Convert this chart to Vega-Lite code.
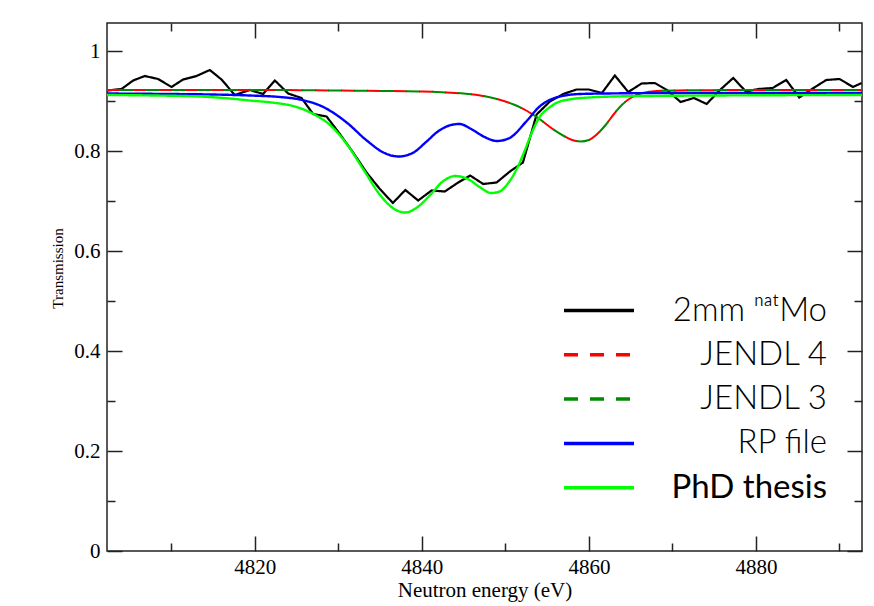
{
  "$schema": "https://vega.github.io/schema/vega-lite/v6.json",
  "width": 755,
  "height": 528,
  "autosize": {"type": "none"},
  "padding": {"left": 107, "top": 23, "right": 12, "bottom": 55},
  "background": "white",
  "config": {
    "view": {"stroke": "#222", "strokeWidth": 1.5},
    "axis": {
      "labelFont": "Liberation Serif",
      "titleFont": "Liberation Serif",
      "labelColor": "#000",
      "titleColor": "#000",
      "labelFontSize": 21,
      "titleFontWeight": "normal",
      "tickColor": "#222",
      "tickWidth": 1.5,
      "domain": false,
      "grid": false
    },
    "legend": {
      "orient": "none",
      "legendX": 455,
      "legendY": 271,
      "padding": 0,
      "symbolType": "stroke",
      "symbolSize": 4900,
      "symbolStrokeWidth": 3.5,
      "clipHeight": 33,
      "rowPadding": 10.3,
      "labelFont": "Lato",
      "labelFontSize": 33,
      "labelAlign": "right",
      "labelBaseline": "middle",
      "labelOffset": 191,
      "labelLimit": 600
    }
  },
  "data": {
    "values": [
      {"s": "2mm ⁿᵃᵗMo", "E": 4802.31, "T": 0.921},
      {"s": "2mm ⁿᵃᵗMo", "E": 4804.04, "T": 0.924},
      {"s": "2mm ⁿᵃᵗMo", "E": 4805.43, "T": 0.941},
      {"s": "2mm ⁿᵃᵗMo", "E": 4806.83, "T": 0.950},
      {"s": "2mm ⁿᵃᵗMo", "E": 4808.42, "T": 0.944},
      {"s": "2mm ⁿᵃᵗMo", "E": 4810.02, "T": 0.928},
      {"s": "2mm ⁿᵃᵗMo", "E": 4811.41, "T": 0.943},
      {"s": "2mm ⁿᵃᵗMo", "E": 4813.02, "T": 0.950},
      {"s": "2mm ⁿᵃᵗMo", "E": 4814.61, "T": 0.962},
      {"s": "2mm ⁿᵃᵗMo", "E": 4816.01, "T": 0.943},
      {"s": "2mm ⁿᵃᵗMo", "E": 4817.60, "T": 0.912},
      {"s": "2mm ⁿᵃᵗMo", "E": 4819.40, "T": 0.922},
      {"s": "2mm ⁿᵃᵗMo", "E": 4820.99, "T": 0.914},
      {"s": "2mm ⁿᵃᵗMo", "E": 4822.40, "T": 0.941},
      {"s": "2mm ⁿᵃᵗMo", "E": 4823.99, "T": 0.915},
      {"s": "2mm ⁿᵃᵗMo", "E": 4825.59, "T": 0.906},
      {"s": "2mm ⁿᵃᵗMo", "E": 4826.98, "T": 0.874},
      {"s": "2mm ⁿᵃᵗMo", "E": 4828.59, "T": 0.869},
      {"s": "2mm ⁿᵃᵗMo", "E": 4830.18, "T": 0.834},
      {"s": "2mm ⁿᵃᵗMo", "E": 4831.77, "T": 0.797},
      {"s": "2mm ⁿᵃᵗMo", "E": 4833.38, "T": 0.757},
      {"s": "2mm ⁿᵃᵗMo", "E": 4834.97, "T": 0.724},
      {"s": "2mm ⁿᵃᵗMo", "E": 4836.53, "T": 0.696},
      {"s": "2mm ⁿᵃᵗMo", "E": 4838.02, "T": 0.722},
      {"s": "2mm ⁿᵃᵗMo", "E": 4839.56, "T": 0.701},
      {"s": "2mm ⁿᵃᵗMo", "E": 4841.16, "T": 0.721},
      {"s": "2mm ⁿᵃᵗMo", "E": 4842.75, "T": 0.719},
      {"s": "2mm ⁿᵃᵗMo", "E": 4844.35, "T": 0.737},
      {"s": "2mm ⁿᵃᵗMo", "E": 4845.78, "T": 0.751},
      {"s": "2mm ⁿᵃᵗMo", "E": 4847.34, "T": 0.734},
      {"s": "2mm ⁿᵃᵗMo", "E": 4848.95, "T": 0.737},
      {"s": "2mm ⁿᵃᵗMo", "E": 4850.54, "T": 0.759},
      {"s": "2mm ⁿᵃᵗMo", "E": 4852.10, "T": 0.777},
      {"s": "2mm ⁿᵃᵗMo", "E": 4853.74, "T": 0.873},
      {"s": "2mm ⁿᵃᵗMo", "E": 4855.33, "T": 0.899},
      {"s": "2mm ⁿᵃᵗMo", "E": 4856.92, "T": 0.914},
      {"s": "2mm ⁿᵃᵗMo", "E": 4858.53, "T": 0.923},
      {"s": "2mm ⁿᵃᵗMo", "E": 4860.00, "T": 0.923},
      {"s": "2mm ⁿᵃᵗMo", "E": 4861.56, "T": 0.916},
      {"s": "2mm ⁿᵃᵗMo", "E": 4863.11, "T": 0.951},
      {"s": "2mm ⁿᵃᵗMo", "E": 4864.71, "T": 0.918},
      {"s": "2mm ⁿᵃᵗMo", "E": 4866.31, "T": 0.935},
      {"s": "2mm ⁿᵃᵗMo", "E": 4867.90, "T": 0.936},
      {"s": "2mm ⁿᵃᵗMo", "E": 4869.34, "T": 0.922},
      {"s": "2mm ⁿᵃᵗMo", "E": 4870.98, "T": 0.898},
      {"s": "2mm ⁿᵃᵗMo", "E": 4872.57, "T": 0.906},
      {"s": "2mm ⁿᵃᵗMo", "E": 4874.10, "T": 0.894},
      {"s": "2mm ⁿᵃᵗMo", "E": 4875.69, "T": 0.922},
      {"s": "2mm ⁿᵃᵗMo", "E": 4877.28, "T": 0.946},
      {"s": "2mm ⁿᵃᵗMo", "E": 4878.80, "T": 0.919},
      {"s": "2mm ⁿᵃᵗMo", "E": 4880.28, "T": 0.924},
      {"s": "2mm ⁿᵃᵗMo", "E": 4882.00, "T": 0.926},
      {"s": "2mm ⁿᵃᵗMo", "E": 4883.63, "T": 0.942},
      {"s": "2mm ⁿᵃᵗMo", "E": 4885.19, "T": 0.907},
      {"s": "2mm ⁿᵃᵗMo", "E": 4886.71, "T": 0.924},
      {"s": "2mm ⁿᵃᵗMo", "E": 4888.42, "T": 0.942},
      {"s": "2mm ⁿᵃᵗMo", "E": 4890.02, "T": 0.944},
      {"s": "2mm ⁿᵃᵗMo", "E": 4891.62, "T": 0.928},
      {"s": "2mm ⁿᵃᵗMo", "E": 4892.66, "T": 0.936},

      {"s": "JENDL 4", "E": 4802.3, "T": 0.922},
      {"s": "JENDL 4", "E": 4810, "T": 0.922},
      {"s": "JENDL 4", "E": 4820, "T": 0.922},
      {"s": "JENDL 4", "E": 4830, "T": 0.921},
      {"s": "JENDL 4", "E": 4836, "T": 0.920},
      {"s": "JENDL 4", "E": 4840, "T": 0.919},
      {"s": "JENDL 4", "E": 4843, "T": 0.917},
      {"s": "JENDL 4", "E": 4845, "T": 0.915},
      {"s": "JENDL 4", "E": 4847, "T": 0.911},
      {"s": "JENDL 4", "E": 4849, "T": 0.904},
      {"s": "JENDL 4", "E": 4851, "T": 0.893},
      {"s": "JENDL 4", "E": 4852.5, "T": 0.881},
      {"s": "JENDL 4", "E": 4854, "T": 0.865},
      {"s": "JENDL 4", "E": 4855.5, "T": 0.846},
      {"s": "JENDL 4", "E": 4857, "T": 0.830},
      {"s": "JENDL 4", "E": 4858, "T": 0.822},
      {"s": "JENDL 4", "E": 4859, "T": 0.819},
      {"s": "JENDL 4", "E": 4860, "T": 0.822},
      {"s": "JENDL 4", "E": 4861, "T": 0.834},
      {"s": "JENDL 4", "E": 4862, "T": 0.852},
      {"s": "JENDL 4", "E": 4863, "T": 0.874},
      {"s": "JENDL 4", "E": 4864, "T": 0.893},
      {"s": "JENDL 4", "E": 4865, "T": 0.906},
      {"s": "JENDL 4", "E": 4866, "T": 0.914},
      {"s": "JENDL 4", "E": 4867.5, "T": 0.919},
      {"s": "JENDL 4", "E": 4870, "T": 0.921},
      {"s": "JENDL 4", "E": 4880, "T": 0.922},
      {"s": "JENDL 4", "E": 4892.7, "T": 0.922},

      {"s": "JENDL 3", "E": 4802.3, "T": 0.922},
      {"s": "JENDL 3", "E": 4810, "T": 0.922},
      {"s": "JENDL 3", "E": 4820, "T": 0.922},
      {"s": "JENDL 3", "E": 4830, "T": 0.921},
      {"s": "JENDL 3", "E": 4836, "T": 0.920},
      {"s": "JENDL 3", "E": 4840, "T": 0.919},
      {"s": "JENDL 3", "E": 4843, "T": 0.917},
      {"s": "JENDL 3", "E": 4845, "T": 0.915},
      {"s": "JENDL 3", "E": 4847, "T": 0.911},
      {"s": "JENDL 3", "E": 4849, "T": 0.904},
      {"s": "JENDL 3", "E": 4851, "T": 0.893},
      {"s": "JENDL 3", "E": 4852.5, "T": 0.881},
      {"s": "JENDL 3", "E": 4854, "T": 0.865},
      {"s": "JENDL 3", "E": 4855.5, "T": 0.846},
      {"s": "JENDL 3", "E": 4857, "T": 0.830},
      {"s": "JENDL 3", "E": 4858, "T": 0.822},
      {"s": "JENDL 3", "E": 4859, "T": 0.819},
      {"s": "JENDL 3", "E": 4860, "T": 0.822},
      {"s": "JENDL 3", "E": 4861, "T": 0.834},
      {"s": "JENDL 3", "E": 4862, "T": 0.852},
      {"s": "JENDL 3", "E": 4863, "T": 0.874},
      {"s": "JENDL 3", "E": 4864, "T": 0.893},
      {"s": "JENDL 3", "E": 4865, "T": 0.906},
      {"s": "JENDL 3", "E": 4866, "T": 0.914},
      {"s": "JENDL 3", "E": 4867.5, "T": 0.919},
      {"s": "JENDL 3", "E": 4870, "T": 0.921},
      {"s": "JENDL 3", "E": 4880, "T": 0.922},
      {"s": "JENDL 3", "E": 4892.7, "T": 0.922},

      {"s": "RP file", "E": 4802.3, "T": 0.915},
      {"s": "RP file", "E": 4810, "T": 0.914},
      {"s": "RP file", "E": 4815, "T": 0.913},
      {"s": "RP file", "E": 4819.4, "T": 0.911},
      {"s": "RP file", "E": 4823.0, "T": 0.908},
      {"s": "RP file", "E": 4825.4, "T": 0.903},
      {"s": "RP file", "E": 4828.2, "T": 0.888},
      {"s": "RP file", "E": 4831.0, "T": 0.857},
      {"s": "RP file", "E": 4833.4, "T": 0.821},
      {"s": "RP file", "E": 4835.4, "T": 0.797},
      {"s": "RP file", "E": 4837.2, "T": 0.789},
      {"s": "RP file", "E": 4839.0, "T": 0.797},
      {"s": "RP file", "E": 4840.5, "T": 0.818},
      {"s": "RP file", "E": 4842.0, "T": 0.840},
      {"s": "RP file", "E": 4843.5, "T": 0.852},
      {"s": "RP file", "E": 4844.5, "T": 0.854},
      {"s": "RP file", "E": 4846.0, "T": 0.843},
      {"s": "RP file", "E": 4847.5, "T": 0.828},
      {"s": "RP file", "E": 4849.0, "T": 0.820},
      {"s": "RP file", "E": 4850.5, "T": 0.826},
      {"s": "RP file", "E": 4852.5, "T": 0.859},
      {"s": "RP file", "E": 4854.1, "T": 0.889},
      {"s": "RP file", "E": 4856.1, "T": 0.907},
      {"s": "RP file", "E": 4858.9, "T": 0.914},
      {"s": "RP file", "E": 4862, "T": 0.915},
      {"s": "RP file", "E": 4870, "T": 0.916},
      {"s": "RP file", "E": 4892.7, "T": 0.916},

      {"s": "PhD thesis", "E": 4802.3, "T": 0.912},
      {"s": "PhD thesis", "E": 4808, "T": 0.911},
      {"s": "PhD thesis", "E": 4813.4, "T": 0.909},
      {"s": "PhD thesis", "E": 4817, "T": 0.905},
      {"s": "PhD thesis", "E": 4819.4, "T": 0.901},
      {"s": "PhD thesis", "E": 4822, "T": 0.897},
      {"s": "PhD thesis", "E": 4825.0, "T": 0.888},
      {"s": "PhD thesis", "E": 4827.0, "T": 0.874},
      {"s": "PhD thesis", "E": 4829.0, "T": 0.852},
      {"s": "PhD thesis", "E": 4831.0, "T": 0.814},
      {"s": "PhD thesis", "E": 4833.0, "T": 0.763},
      {"s": "PhD thesis", "E": 4835.0, "T": 0.712},
      {"s": "PhD thesis", "E": 4836.6, "T": 0.685},
      {"s": "PhD thesis", "E": 4838.0, "T": 0.677},
      {"s": "PhD thesis", "E": 4839.5, "T": 0.688},
      {"s": "PhD thesis", "E": 4841.0, "T": 0.712},
      {"s": "PhD thesis", "E": 4842.5, "T": 0.739},
      {"s": "PhD thesis", "E": 4844.0, "T": 0.750},
      {"s": "PhD thesis", "E": 4845.5, "T": 0.744},
      {"s": "PhD thesis", "E": 4847.0, "T": 0.727},
      {"s": "PhD thesis", "E": 4848.3, "T": 0.716},
      {"s": "PhD thesis", "E": 4849.3, "T": 0.719},
      {"s": "PhD thesis", "E": 4850.3, "T": 0.735},
      {"s": "PhD thesis", "E": 4851.3, "T": 0.762},
      {"s": "PhD thesis", "E": 4852.3, "T": 0.800},
      {"s": "PhD thesis", "E": 4853.2, "T": 0.838},
      {"s": "PhD thesis", "E": 4854.1, "T": 0.868},
      {"s": "PhD thesis", "E": 4855.2, "T": 0.886},
      {"s": "PhD thesis", "E": 4856.1, "T": 0.896},
      {"s": "PhD thesis", "E": 4858, "T": 0.904},
      {"s": "PhD thesis", "E": 4860, "T": 0.907},
      {"s": "PhD thesis", "E": 4863, "T": 0.909},
      {"s": "PhD thesis", "E": 4867, "T": 0.910},
      {"s": "PhD thesis", "E": 4875, "T": 0.911},
      {"s": "PhD thesis", "E": 4892.7, "T": 0.912}
    ]
  },
  "layer": [
    {
      "transform": [{"filter": {"field": "s", "equal": "2mm ⁿᵃᵗMo"}}],
      "mark": {"type": "line", "strokeWidth": 2.2, "clip": true},
      "encoding": {
        "x": {
          "field": "E", "type": "quantitative",
          "scale": {"domain": [4802.3, 4892.7], "nice": false, "zero": false},
          "axis": {
            "orient": "bottom",
            "values": [4810, 4820, 4830, 4840, 4850, 4860, 4870, 4880, 4890],
            "format": "d",
            "tickSize": {"condition": {"test": "datum.value % 20 === 0", "value": -15}, "value": -8},
            "labelExpr": "datum.value % 20 === 0 ? datum.label : ''",
            "labelPadding": 20,
            "title": "Neutron energy (eV)",
            "titleFontSize": 21,
            "titleBaseline": "alphabetic",
            "titleY": 45
          }
        },
        "y": {
          "field": "T", "type": "quantitative",
          "scale": {"domain": [0, 1.056], "nice": false, "zero": true},
          "axis": {
            "orient": "left",
            "values": [0, 0.1, 0.2, 0.3, 0.4, 0.5, 0.6, 0.7, 0.8, 0.9, 1],
            "format": "~g",
            "tickSize": {"condition": {"test": "round(datum.value * 10) % 2 === 0", "value": -15}, "value": -8},
            "labelExpr": "round(datum.value * 10) % 2 === 0 ? datum.label : ''",
            "labelPadding": 22,
            "title": "Transmission",
            "titleFontSize": 15,
            "titlePadding": 8,
            "titleY": 245
          }
        },
        "color": {
          "field": "s", "type": "nominal",
          "scale": {
            "domain": ["2mm ⁿᵃᵗMo", "JENDL 4", "JENDL 3", "RP file", "PhD thesis"],
            "range": ["#000000", "#ff0000", "#008b00", "#0000ff", "#00ff00"]
          },
          "legend": {
            "title": null,
            "encode": {
              "labels": {
                "update": {
                  "fontWeight": {"signal": "datum.label === 'PhD thesis' ? 400 : 300"},
                  "fill": {"value": "#000000"}
                }
              }
            }
          }
        },
        "strokeDash": {
          "field": "s", "type": "nominal",
          "scale": {
            "domain": ["2mm ⁿᵃᵗMo", "JENDL 4", "JENDL 3", "RP file", "PhD thesis"],
            "range": [[1, 0], [14, 12], [14, 12], [1, 0], [1, 0]]
          },
          "legend": {
            "title": null,
            "encode": {
              "labels": {
                "update": {
                  "fontWeight": {"signal": "datum.label === 'PhD thesis' ? 400 : 300"},
                  "fill": {"value": "#000000"}
                }
              }
            }
          }
        }
      }
    },
    {
      "transform": [{"filter": {"field": "s", "equal": "JENDL 4"}}],
      "mark": {"type": "line", "interpolate": "monotone", "strokeWidth": 2, "clip": true},
      "encoding": {
        "x": {
          "field": "E", "type": "quantitative",
          "axis": {
            "orient": "top",
            "values": [4810, 4820, 4830, 4840, 4850, 4860, 4870, 4880, 4890],
            "tickSize": {"condition": {"test": "datum.value % 20 === 0", "value": -15}, "value": -8},
            "labels": false,
            "title": null
          }
        },
        "y": {
          "field": "T", "type": "quantitative",
          "axis": {
            "orient": "right",
            "values": [0, 0.1, 0.2, 0.3, 0.4, 0.5, 0.6, 0.7, 0.8, 0.9, 1],
            "tickSize": {"condition": {"test": "round(datum.value * 10) % 2 === 0", "value": -15}, "value": -8},
            "labels": false,
            "title": null
          }
        },
        "color": {"field": "s", "type": "nominal"},
        "strokeDash": {"field": "s", "type": "nominal"}
      }
    },
    {
      "transform": [{"filter": {"field": "s", "equal": "JENDL 3"}}],
      "mark": {"type": "line", "interpolate": "monotone", "strokeWidth": 2, "strokeDashOffset": 13, "clip": true},
      "encoding": {
        "x": {"field": "E", "type": "quantitative", "axis": null},
        "y": {"field": "T", "type": "quantitative", "axis": null},
        "color": {"field": "s", "type": "nominal"},
        "strokeDash": {"field": "s", "type": "nominal"}
      }
    },
    {
      "transform": [{"filter": {"field": "s", "oneOf": ["RP file", "PhD thesis"]}}],
      "mark": {"type": "line", "interpolate": "monotone", "strokeWidth": 2.4, "clip": true},
      "encoding": {
        "x": {"field": "E", "type": "quantitative", "axis": null},
        "y": {"field": "T", "type": "quantitative", "axis": null},
        "color": {"field": "s", "type": "nominal"},
        "strokeDash": {"field": "s", "type": "nominal"}
      }
    }
  ],
  "resolve": {"axis": {"x": "independent", "y": "independent"}}
}
